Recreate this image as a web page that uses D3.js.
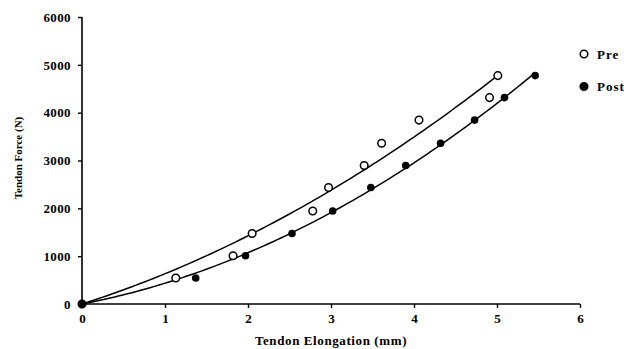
<!DOCTYPE html>
<html>
<head>
<meta charset="utf-8">
<script src="https://cdn.jsdelivr.net/npm/d3@7"></script>
<style>
  body { margin: 0; background: #fff; }
  text { font-family: "Liberation Serif", "Times New Roman", serif; font-weight: bold; fill: #000; }
</style>
</head>
<body>
<svg width="624" height="349"></svg>
<script>
// readings
const preX = [0, 1.13, 1.82, 2.05, 2.78, 2.97, 3.40, 3.61, 4.06, 4.91, 5.01]
const preY = [0, 545, 1010, 1475, 1945, 2435, 2895, 3360, 3845, 4315, 4775]
const postX = [0, 1.37, 1.97, 2.53, 3.02, 3.48, 3.90, 4.32, 4.73, 5.09, 5.46]
const postY = [0, 545, 1010, 1475, 1945, 2435, 2895, 3360, 3845, 4315, 4775]
const xTicks = [0, 1, 2, 3, 4, 5, 6]
const yTicks = [0, 1000, 2000, 3000, 4000, 5000, 6000]

const svg = d3.select("svg")
const x = d3.scaleLinear().domain([0, 6]).range([82, 580])
const y = d3.scaleLinear().domain([0, 6000]).range([304, 17])

// 2nd order trendline through origin: y = a*x + b*x^2
function fit(xs, ys) {
    let s2 = 0, s3 = 0, s4 = 0, t1 = 0, t2 = 0
    xs.forEach((v, i) => {
        s2 += v * v; s3 += v * v * v; s4 += v * v * v * v
        t1 += v * ys[i]; t2 += v * v * ys[i]
    })
    const det = s2 * s4 - s3 * s3
    const a = (t1 * s4 - t2 * s3) / det
    const b = (s2 * t2 - s3 * t1) / det
    return v => a * v + b * v * v
}

function trend(xs, ys) {
    const f = fit(xs, ys)
    const xmax = d3.max(xs)
    return d3.range(0, 101).map(i => [xmax * i / 100, f(xmax * i / 100)])
}

const line = d3.line().x(d => x(d[0])).y(d => y(d[1]))

svg.append("path").datum(trend(preX, preY))
    .attr("d", line).attr("fill", "none").attr("stroke", "#000").attr("stroke-width", 1.5)
svg.append("path").datum(trend(postX, postY))
    .attr("d", line).attr("fill", "none").attr("stroke", "#000").attr("stroke-width", 1.5)

// axes
let xAxis = svg.append("g").attr("transform", `translate(0,${y(0)})`)
    .call(d3.axisBottom(x).tickValues(xTicks).tickSize(4).tickFormat(d3.format("d")))
let yAxis = svg.append("g").attr("transform", `translate(${x(0)},0)`)
    .call(d3.axisLeft(y).tickValues(yTicks).tickSize(4).tickFormat(d3.format("d")))

xAxis.select(".domain").attr("stroke-width", 1.6).attr("d", `M${x(0)},0H${x(6)}`)
yAxis.select(".domain").attr("stroke-width", 1.6).attr("d", `M0,${y(0)}V${y(6000)}`)
xAxis.selectAll(".tick line").attr("stroke-width", 1.4)
yAxis.selectAll(".tick line").attr("stroke-width", 1.4)
xAxis.selectAll("text").attr("font-size", 13).attr("dy", "0.9em").attr("y", 7)
    .style("font-family", "Liberation Serif").style("font-weight", "bold")
yAxis.selectAll("text").attr("font-size", 13).attr("x", -11).attr("letter-spacing", 0.4)
    .style("font-family", "Liberation Serif").style("font-weight", "bold")
svg.selectAll(".domain, .tick line").attr("stroke", "#000")

// points
svg.append("g").selectAll("circle")
    .data(preX.map((v, i) => [v, preY[i]]))
    .enter().append("circle")
    .attr("cx", d => x(d[0])).attr("cy", d => y(d[1])).attr("r", 3.8)
    .attr("fill", "#fff").attr("stroke", "#000").attr("stroke-width", 1.5)
svg.append("g").selectAll("circle")
    .data(postX.map((v, i) => [v, postY[i]]))
    .enter().append("circle")
    .attr("cx", d => x(d[0])).attr("cy", d => y(d[1])).attr("r", 3.8)
    .attr("fill", "#000")

// titles
svg.append("text").attr("x", 331).attr("y", 345).attr("text-anchor", "middle")
    .attr("font-size", 13).attr("letter-spacing", 0.6).text("Tendon Elongation (mm)")
svg.append("text").attr("transform", "translate(22,158) rotate(-90)")
    .attr("text-anchor", "middle").attr("font-size", 11).text("Tendon Force (N)")

// legend
const legend = [["Pre", "#fff"], ["Post", "#000"]]
let lg = svg.append("g").selectAll("g").data(legend).enter().append("g")
    .attr("transform", (d, i) => `translate(584,${54 + i * 32.5})`)
lg.append("circle").attr("r", 3.8).attr("fill", d => d[1])
    .attr("stroke", "#000").attr("stroke-width", 1.5)
lg.append("text").attr("x", 13).attr("dy", "0.35em").attr("font-size", 13)
    .attr("letter-spacing", 1).text(d => d[0])
</script>
</body>
</html>
